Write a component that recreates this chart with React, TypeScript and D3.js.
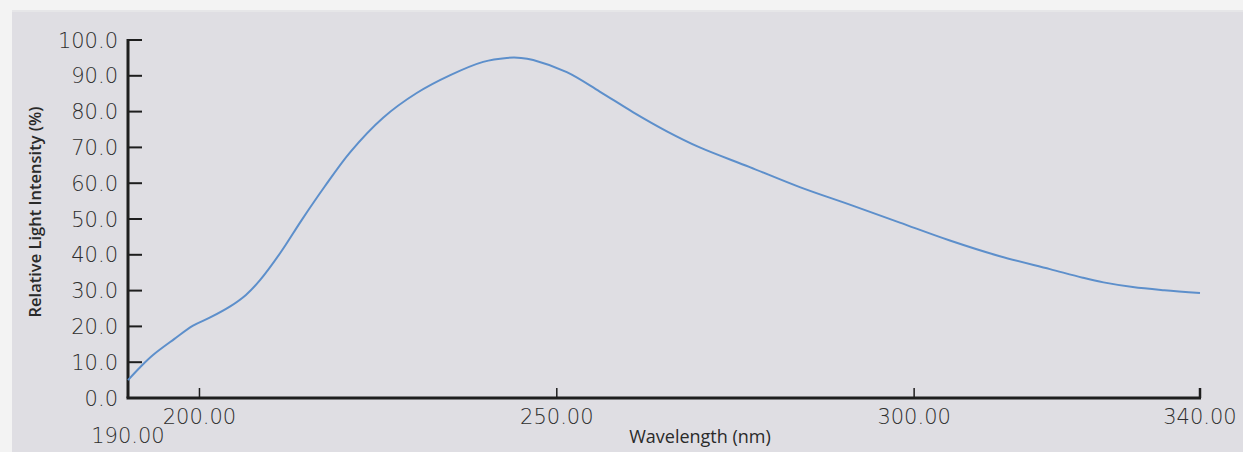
import React, { useEffect, useRef } from "react";
import * as d3 from "d3";

const wavelengths = [190, 191.7, 193.5, 196.5, 199.1, 201.5, 204.3, 206.5, 208.5, 211.3, 214.3, 217.5, 221.1, 225.7, 230.4, 235.1, 239.7, 243, 245, 246.7, 251.4, 256, 260.7, 265.4, 270, 277, 284, 291, 298, 305, 312, 319, 323.6, 326.5, 330.6, 335, 340];
const intensity = [5.0, 8.6, 12.0, 16.5, 20.2, 22.5, 25.6, 28.8, 33.0, 40.5, 49.7, 59.0, 68.7, 78.3, 85.2, 90.2, 93.9, 95.0, 95.0, 94.4, 91.0, 85.6, 79.8, 74.5, 70.0, 64.5, 58.9, 54.0, 49.0, 44.0, 39.6, 36.0, 33.6, 32.3, 31.0, 30.1, 29.3];

const yTicks = [0, 10, 20, 30, 40, 50, 60, 70, 80, 90, 100];
const xTicks = [200, 250, 300, 340];
const xStartLabel = 190;
const xLabel = "Wavelength (nm)";
const yLabel = "Relative Light Intensity (%)";

export default function App() {
  const ref = useRef<SVGSVGElement | null>(null);

  useEffect(() => {
    const svg = d3.select(ref.current);
    svg.selectAll("*").remove();
    const W = 1243, H = 452;
    const x = d3.scaleLinear().domain([190, 340]).range([128, 1200]);
    const y = d3.scaleLinear().domain([0, 100]).range([398, 40]);

    svg.append("rect").attr("x", 0).attr("y", 0).attr("width", W).attr("height", H).attr("fill", "#f3f3f3");
    svg.append("rect").attr("x", 12).attr("y", 10).attr("width", W - 12).attr("height", 3).attr("fill", "#e6e6e8");
    svg.append("rect").attr("x", 12).attr("y", 12).attr("width", W - 12).attr("height", H - 12).attr("fill", "#dfdee3");

    const tickFont = "'DejaVu Sans', sans-serif";
    const tickSize = 21;
    const tickWeight = 200;
    const tickColor = "#2e2e2e";

    // Y axis
    const gy = svg.append("g");
    gy.append("line").attr("x1", 128).attr("x2", 128).attr("y1", y(100) - 1).attr("y2", y(0))
      .attr("stroke", "#1e1e1e").attr("stroke-width", 3);
    gy.selectAll("line.t").data(yTicks).enter().append("line").attr("class", "t")
      .attr("x1", 128).attr("x2", 142).attr("y1", (d) => y(d)).attr("y2", (d) => y(d))
      .attr("stroke", "#1e1e1e").attr("stroke-width", 2);
    gy.selectAll("text").data(yTicks).enter().append("text")
      .attr("x", 118).attr("y", (d) => y(d)).attr("dy", "0.36em")
      .attr("text-anchor", "end").attr("font-family", tickFont).attr("font-weight", tickWeight)
      .attr("font-size", tickSize).attr("fill", tickColor)
      .text((d) => d.toFixed(1));

    // X axis
    const gx = svg.append("g");
    gx.append("line").attr("x1", 126.5).attr("x2", x(340) + 1).attr("y1", 398).attr("y2", 398)
      .attr("stroke", "#1e1e1e").attr("stroke-width", 3);
    gx.selectAll("line.t").data(xTicks).enter().append("line").attr("class", "t")
      .attr("x1", (d) => x(d)).attr("x2", (d) => x(d)).attr("y1", 398).attr("y2", 388)
      .attr("stroke", "#1e1e1e").attr("stroke-width", (d) => (d === 340 ? 2.5 : 1.5));
    gx.selectAll("text.tl").data(xTicks).enter().append("text").attr("class", "tl")
      .attr("x", (d) => x(d)).attr("y", 424)
      .attr("text-anchor", "middle").attr("font-family", tickFont).attr("font-weight", tickWeight)
      .attr("font-size", tickSize).attr("fill", tickColor)
      .text((d) => d.toFixed(2));
    gx.append("text").attr("x", x(xStartLabel)).attr("y", 443)
      .attr("text-anchor", "middle").attr("font-family", tickFont).attr("font-weight", tickWeight)
      .attr("font-size", tickSize).attr("fill", tickColor).text(xStartLabel.toFixed(2));

    svg.append("text").attr("x", 700).attr("y", 443).attr("text-anchor", "middle")
      .attr("font-family", "'Open Sans', sans-serif").attr("font-size", 18).attr("fill", "#2a2a2a")
      .text(xLabel);
    svg.append("text").attr("transform", "translate(41,212) rotate(-90)").attr("text-anchor", "middle")
      .attr("font-family", "'Open Sans', sans-serif").attr("font-weight", 600).attr("font-size", 16.5)
      .attr("fill", "#2a2a2a").text(yLabel);

    const data = wavelengths.map((w, i) => [w, intensity[i]] as [number, number]);
    const line = d3.line<[number, number]>().x((d) => x(d[0])).y((d) => y(d[1])).curve(d3.curveCatmullRom.alpha(0.5));
    svg.append("path").datum(data).attr("d", line).attr("fill", "none")
      .attr("stroke", "#5d8fcb").attr("stroke-width", 2);
  }, []);

  return (
    <svg ref={ref} width={1243} height={452}
      style={{ position: "absolute", left: 0, top: 0, display: "block" }} />
  );
}
